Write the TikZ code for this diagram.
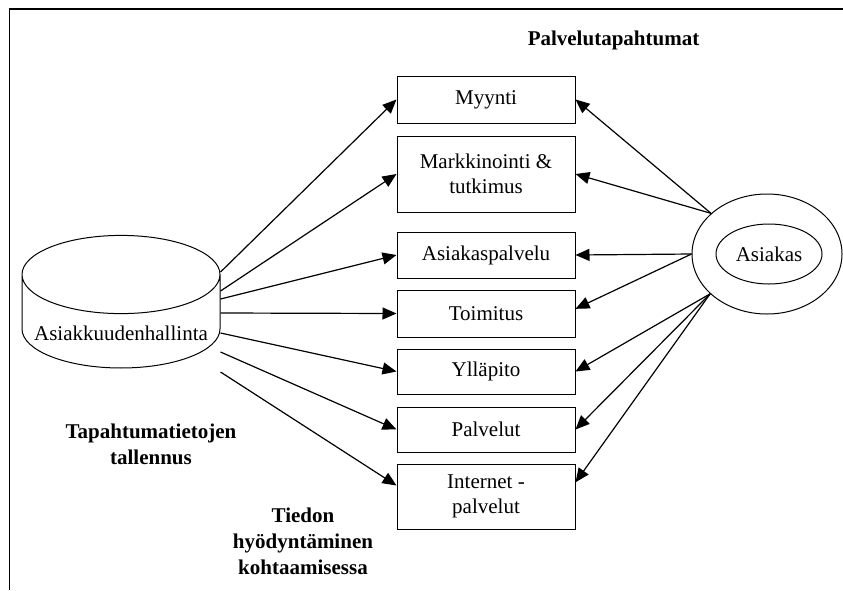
\documentclass[tikz,border=0pt]{standalone}
\usepackage{fontspec}
\setmainfont{Liberation Serif}
\usetikzlibrary{shapes.geometric, arrows.meta}

\begin{document}
\begin{tikzpicture}[x=1pt, y=-1pt]
	\tikzset{tapahtuma/.style={draw, line width=1pt, minimum width=178pt, minimum height=#1, align=center, font=\fontsize{21}{25.5}\selectfont},
		nuoli/.style={-{Triangle[length=14pt,width=12pt]}, line width=1.2pt},
		otsikko/.style={align=center, font=\bfseries\fontsize{21}{26}\selectfont}}
	\useasboundingbox (0,0) rectangle (843,590);
	\draw[line width=1.5pt] (843,9) -- (9.5,9) -- (9.5,590);
	
	\node [tapahtuma=47pt] (myynti) at (486,99.5) {Myynti};
	\node [tapahtuma=76pt] (markkinointi) at (486,174) {Markkinointi \&\\tutkimus};
	\node [tapahtuma=46pt] (asiakaspalvelu) at (486,255) {Asiakaspalvelu};
	\node [tapahtuma=47pt] (toimitus) at (486,313.5) {Toimitus};
	\node [tapahtuma=45pt] (yllapito) at (486,371.5) {Ylläpito};
	\node [tapahtuma=45pt] (palvelut) at (486,429.5) {Palvelut};
	\node [tapahtuma=65pt] (internet) at (486,496.5) {Internet -\\palvelut};
	
	\node [draw, line width=1pt, cylinder, shape border rotate=90, aspect=0.45, minimum width=198pt, minimum height=130pt, inner sep=0pt, font=\fontsize{21}{25.5}\selectfont] (kanta) at (121,321.5) {\raisebox{-12pt}[\height][\depth]{Asiakkuudenhallinta}};
	
	\node [draw, line width=1pt, ellipse, minimum width=150pt, minimum height=120pt] (asiakasreuna) at (767,254) {};
	\node [draw, line width=1pt, ellipse, minimum width=106pt, minimum height=60pt, inner sep=0pt, font=\fontsize{21}{25.5}\selectfont] (asiakas) at (769,254) {Asiakas};
	
	\node [otsikko] (palvelutapahtumat) at (613.5,40) {Palvelutapahtumat};
	\node [otsikko] (tallennus) at (151,444) {Tapahtumatietojen\\tallennus};
	\node [otsikko] (hyodyntaminen) at (303,541) {Tiedon\\hyödyntäminen\\kohtaamisessa};
	
	% tietokannasta palvelutapahtumiin
	\draw[nuoli] ([yshift=49.5pt]kanta.east) -- (myynti.west);
	\draw[nuoli] ([yshift=30.5pt]kanta.east) -- (markkinointi.west);
	\draw[nuoli] ([yshift=22.5pt]kanta.east) -- (asiakaspalvelu.west);
	\draw[nuoli] ([yshift=8.5pt]kanta.east) -- (toimitus.west);
	\draw[nuoli] ([yshift=-11.5pt]kanta.east) -- (yllapito.west);
	\draw[nuoli] ([yshift=-30.5pt]kanta.east) -- (palvelut.west);
	\draw[nuoli] ([yshift=-50.5pt]kanta.east) -- (internet.173);
	
	% asiakkaalta palvelutapahtumiin
	\draw[nuoli] (asiakasreuna.144) -- (myynti.east);
	\draw[nuoli] (asiakasreuna.144) -- (markkinointi.east);
	\draw[nuoli] (asiakasreuna.180) -- (asiakaspalvelu.east);
	\draw[nuoli] (asiakasreuna.180) -- (toimitus.3);
	\draw[nuoli] (asiakasreuna.215) -- (yllapito.east);
	\draw[nuoli] (asiakasreuna.215) -- (palvelut.east);
	\draw[nuoli] (asiakasreuna.215) -- (internet.9);
\end{tikzpicture}
\end{document}
